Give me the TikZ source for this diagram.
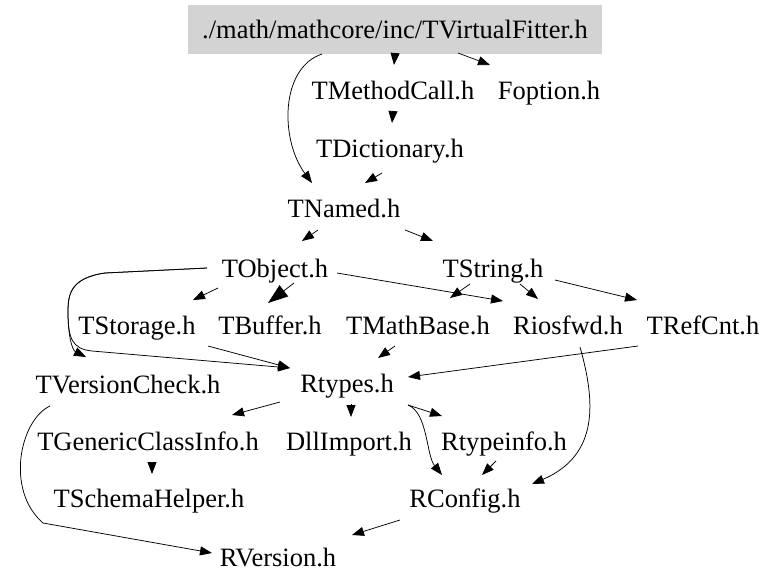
\documentclass[tikz,border=0pt]{standalone}
\usepackage{fontspec}
\setmainfont{Liberation Serif}
\usetikzlibrary{arrows.meta}
\definecolor{boxgray}{RGB}{211,211,211}
\begin{document}
\begin{tikzpicture}[x=1pt,y=-1pt,
  nd/.style={inner sep=0pt, text height=18pt, text depth=0pt, font=\fontsize{26.5}{30}\selectfont},
  arr/.style={-{Triangle[length=12pt,width=9pt]}, line width=0.75pt, black},
  bigarr/.style={-{Triangle[length=20pt,width=14pt]}, line width=0.75pt, black}]
\useasboundingbox (0,0) rectangle (776,587);
\node[nd, fill=boxgray, minimum width=414pt, minimum height=49pt] (root) at (395,29.5) {./math/mathcore/inc/TVirtualFitter.h};
\node[nd] (mc) at (393,90) {TMethodCall.h};
\node[nd] (fo) at (549,90) {Foption.h};
\node[nd] (dic) at (390,148) {TDictionary.h};
\node[nd] (nam) at (344,208) {TNamed.h};
\node[nd] (obj) at (275,268) {TObject.h};
\node[nd] (str) at (493,268) {TString.h};
\node[nd] (sto) at (137,325) {TStorage.h};
\node[nd] (buf) at (270,325) {TBuffer.h};
\node[nd] (mb) at (418,325) {TMathBase.h};
\node[nd] (rio) at (568,325) {Riosfwd.h};
\node[nd] (rc) at (703,325) {TRefCnt.h};
\node[nd] (vc) at (128,384) {TVersionCheck.h};
\node[nd] (rt) at (347,383) {Rtypes.h};
\node[nd] (gci) at (148,441) {TGenericClassInfo.h};
\node[nd] (dll) at (349,441) {DllImport.h};
\node[nd] (rti) at (504,441) {Rtypeinfo.h};
\node[nd] (sh) at (149,498) {TSchemaHelper.h};
\node[nd] (rcf) at (465,498) {RConfig.h};
\node[nd] (rv) at (278,557) {RVersion.h};
% edges
\draw[arr] ([shift={(0,24.5)}]root.center) -- ([shift={(1,-25)}]mc.center);
\draw[arr] ([shift={(63,23.5)}]root.center) -- ([shift={(-59,-25)}]fo.center);
\draw[arr] ([shift={(-73,24.5)}]root.center) .. controls (280,68) and (280,140) .. ([shift={(-32,-25)}]nam.center);
\draw[arr] ([shift={(0,21)}]mc.center) -- ([shift={(2,-25)}]dic.center);
\draw[arr] ([shift={(-8,25)}]dic.center) -- ([shift={(21,-25)}]nam.center);
\draw[arr] ([shift={(-26,22)}]nam.center) -- ([shift={(27,-27)}]obj.center);
\draw[arr] ([shift={(61,22)}]nam.center) -- ([shift={(-60,-27)}]str.center);
\draw[arr] ([shift={(-57,20)}]obj.center) -- ([shift={(56,-25)}]sto.center);
\draw[bigarr] ([shift={(19,15)}]obj.center) -- ([shift={(-2,-22)}]buf.center);
\draw[arr] ([shift={(62,5)}]obj.center) -- ([shift={(-65,-24)}]rio.center);
\draw[arr] ([shift={(-68,0)}]obj.center) -- (105,273) .. controls (70,278) and (68,295) .. (68,312) .. controls (68,335) and (72,350) .. ([shift={(-42,-27)}]vc.center);
\draw[arr] ([shift={(-68,0)}]obj.center) -- (105,273) .. controls (70,278) and (68,295) .. (68,312) .. controls (68,338) and (72,349) .. (92,351) -- ([shift={(-57,-15)}]rt.center);
\draw[arr] ([shift={(71,21)}]sto.center) -- ([shift={(-57,-15)}]rt.center);
\draw[arr] ([shift={(-23,16)}]str.center) -- ([shift={(32,-27)}]mb.center);
\draw[arr] ([shift={(27,16)}]str.center) -- ([shift={(-30,-26)}]rio.center);
\draw[arr] ([shift={(62,12)}]str.center) -- ([shift={(-66,-25)}]rc.center);
\draw[arr] ([shift={(-23,21)}]mb.center) -- ([shift={(31,-25)}]rt.center);
\draw[arr] ([shift={(-65,21)}]rc.center) -- ([shift={(61,-6)}]rt.center);
\draw[arr] ([shift={(12,22)}]rio.center) .. controls (595,400) and (600,455) .. ([shift={(67,-14)}]rcf.center);
\draw[arr] ([shift={(-67,19)}]rt.center) -- ([shift={(84,-26)}]gci.center);
\draw[arr] ([shift={(4,21)}]rt.center) -- ([shift={(2,-24)}]dll.center);
\draw[arr] ([shift={(61,22)}]rt.center) -- ([shift={(-62,-25)}]rti.center);
\draw[arr] ([shift={(61,22)}]rt.center) .. controls (428,413) and (426,455) .. ([shift={(-23,-23)}]rcf.center);
\draw[arr] ([shift={(-8,20)}]rti.center) -- ([shift={(17,-23)}]rcf.center);
\draw[arr] ([shift={(4,21)}]gci.center) -- ([shift={(3,-24)}]sh.center);
\draw[arr] ([shift={(-78,22)}]vc.center) .. controls (20,420) and (5,490) .. (43,523) -- ([shift={(-66,-4)}]rv.center);
\draw[arr] ([shift={(-65,22)}]rcf.center) -- ([shift={(74,-22)}]rv.center);
\end{tikzpicture}
\end{document}
